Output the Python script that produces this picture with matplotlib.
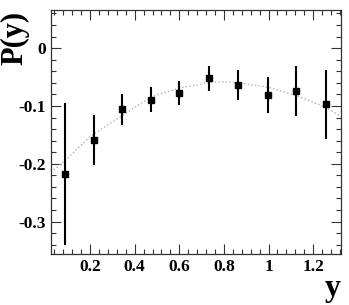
import matplotlib
matplotlib.use("Agg")
import matplotlib.pyplot as plt
from matplotlib.ticker import MultipleLocator, FuncFormatter

# measured points
y_val = [0.086, 0.216, 0.345, 0.475, 0.601, 0.735, 0.865, 0.998, 1.125, 1.256]
p_val = [-0.218, -0.159, -0.106, -0.089, -0.077, -0.052, -0.063, -0.081, -0.074, -0.097]
p_err = [0.123, 0.043, 0.027, 0.021, 0.021, 0.022, 0.026, 0.031, 0.043, 0.060]

# dotted fit curve
fit_x = [0.025, 0.1, 0.2, 0.35, 0.475, 0.6, 0.735, 0.8, 0.865, 1.0, 1.125, 1.256, 1.325]
fit_y = [-0.215, -0.190, -0.153, -0.115, -0.084, -0.069, -0.0595, -0.058, -0.060,
         -0.0675, -0.082, -0.102, -0.118]

plt.rcParams['font.family'] = ['Liberation Serif', 'DejaVu Serif']
plt.rcParams['font.weight'] = 'bold'

fig = plt.figure(figsize=(3.49, 3.05), dpi=100)
ax = fig.add_axes([51 / 349, 1 - 254 / 305, 290 / 349, 244 / 305])

ax.plot(fit_x, fit_y, linestyle=':', color='#b0b0b0', linewidth=1.0)
ax.errorbar(y_val, p_val, yerr=p_err, fmt='s', color='black', markersize=4,
            elinewidth=1.5, capsize=0)

ax.set_xlim(0.025, 1.325)
ax.set_ylim(-0.356, 0.066)
ax.xaxis.set_major_locator(MultipleLocator(0.2))
ax.xaxis.set_minor_locator(MultipleLocator(0.04))
ax.yaxis.set_major_locator(MultipleLocator(0.1))
ax.yaxis.set_minor_locator(MultipleLocator(0.02))
ax.tick_params(which='both', direction='in', top=True, right=True, width=0.8,
               labelsize=12.5, color='#333333')
ax.tick_params(which='major', length=7)
ax.tick_params(which='minor', length=3.5)
ax.xaxis.set_major_formatter(FuncFormatter(lambda v, p: f"{v:g}"))
ax.yaxis.set_major_formatter(FuncFormatter(lambda v, p: "0" if abs(v) < 1e-9 else f"{v:g}"))
for s in ax.spines.values():
    s.set_linewidth(0.9)
    s.set_color('#333333')

fig.text(15 / 349, 1 - 65 / 305, "P(y)", rotation=90, ha='center', va='bottom',
         fontsize=22, fontweight='bold')
fig.text(341 / 349, 2 / 305, "y", ha='right', va='bottom',
         fontsize=23, fontweight='bold')

fig.savefig("out.png", dpi=100)
